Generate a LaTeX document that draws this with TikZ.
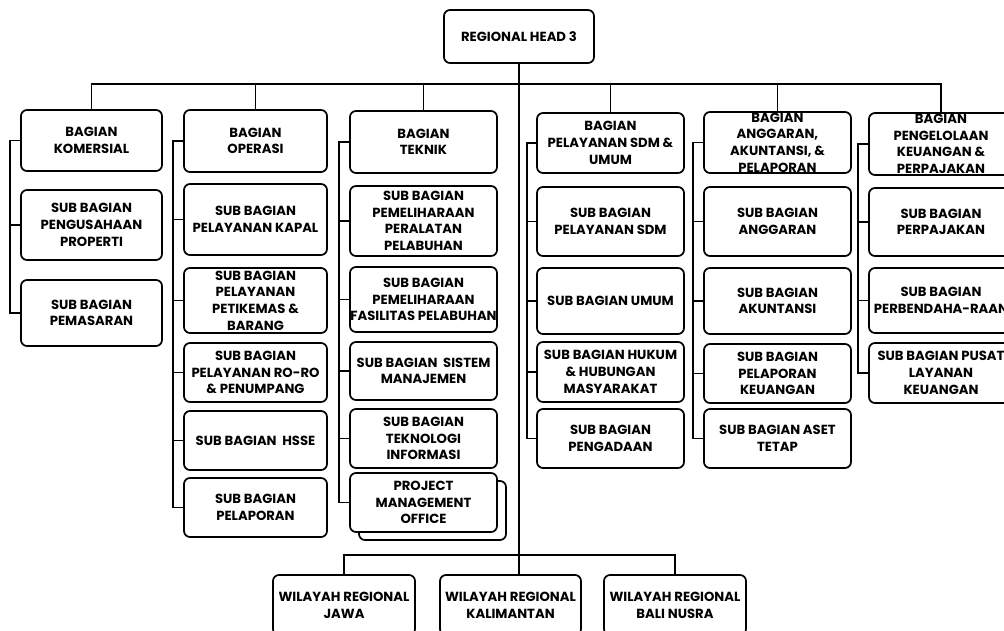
\documentclass[tikz,border=0pt]{standalone}
\usepackage{fontspec}
\setmainfont{Poppins}
\usepackage{tikz}
\usetikzlibrary{positioning}
\newcommand{\orgtext}[1]{\smash{\raisebox{-4.3pt}{\begin{tabular}{@{}c@{}}#1\end{tabular}}}}
\tikzset{
  unit/.style={draw, fill=white, rounded corners=6pt, line width=1.7pt, inner sep=0pt,
    font=\fontsize{13.2}{16.7}\selectfont\bfseries},
  link/.style={line width=1.7pt},
  colkom/.style={unit, minimum width=141pt},
  colops/.style={unit, minimum width=143pt},
  coltek/.style={unit, minimum width=147pt},
  colsdm/.style={unit, minimum width=147pt},
  colagr/.style={unit, minimum width=147pt},
  colkev/.style={unit, minimum width=144pt},
  wilayah/.style={unit, minimum width=142pt, minimum height=60pt}
}

\begin{document}
\begin{tikzpicture}[x=1pt, y=-1pt]
    \clip (0,0) rectangle (1004,630);
    \coordinate (topbus) at (519,84);
    \coordinate (lowbus) at (519,555);

    \node[unit, minimum width=150pt, minimum height=53pt] (head) at (519,36.5) {\orgtext{REGIONAL HEAD 3}};

    % bagian komersial
    \node[colkom, minimum height=61pt] (kom) at (91.5,140.5) {\orgtext{BAGIAN\\KOMERSIAL}};
    \node[colkom, minimum height=70pt] (kom1) at (91.5,225) {\orgtext{SUB BAGIAN\\PENGUSAHAAN\\PROPERTI}};
    \node[colkom, minimum height=66pt] (kom2) at (91.5,313) {\orgtext{SUB BAGIAN\\PEMASARAN}};

    % bagian operasi
    \node[colops, minimum height=62pt] (ops) at (255.5,141) {\orgtext{BAGIAN\\OPERASI}};
    \node[colops, minimum height=71pt] (ops1) at (255.5,219.5) {\orgtext{SUB BAGIAN\\PELAYANAN KAPAL}};
    \node[colops, minimum height=65pt] (ops2) at (255.5,300.5) {\orgtext{SUB BAGIAN\\PELAYANAN\\PETIKEMAS \&\\BARANG}};
    \node[colops, minimum height=59pt] (ops3) at (255.5,372.5) {\orgtext{SUB BAGIAN\\PELAYANAN RO-RO\\\& PENUMPANG}};
    \node[colops, minimum height=59pt] (ops4) at (255.5,440.5) {\orgtext{SUB BAGIAN\ \ HSSE}};
    \node[colops, minimum height=59pt] (ops5) at (255.5,507.5) {\orgtext{SUB BAGIAN\\PELAPORAN}};

    % bagian teknik
    \node[coltek, minimum height=62pt] (tek) at (423.5,142) {\orgtext{BAGIAN\\TEKNIK}};
    \node[coltek, minimum height=70pt] (tek1) at (423.5,221) {\orgtext{SUB BAGIAN\\PEMELIHARAAN\\PERALATAN\\PELABUHAN}};
    \node[coltek, minimum height=65pt] (tek2) at (423.5,299.5) {\orgtext{SUB BAGIAN\\PEMELIHARAAN\\FASILITAS PELABUHAN}};
    \node[coltek, minimum height=58pt] (tek3) at (423.5,371) {\orgtext{SUB BAGIAN\ \ SISTEM\\MANAJEMEN}};
    \node[coltek, minimum height=59pt] (tek4) at (423.5,438.5) {\orgtext{SUB BAGIAN\\TEKNOLOGI\\INFORMASI}};
    \node[coltek, minimum height=59pt] (tek5b) at (432.5,510.5) {};
    \node[coltek, minimum height=59pt] (tek5) at (423.5,502.5) {\orgtext{PROJECT\\MANAGEMENT\\OFFICE}};

    % bagian pelayanan sdm & umum
    \node[colsdm, minimum height=60pt] (sdm) at (610.5,143) {\orgtext{BAGIAN\\PELAYANAN SDM \&\\UMUM}};
    \node[colsdm, minimum height=69pt] (sdm1) at (610.5,221.5) {\orgtext{SUB BAGIAN\\PELAYANAN SDM}};
    \node[colsdm, minimum height=66pt] (sdm2) at (610.5,301) {\orgtext{SUB BAGIAN UMUM}};
    \node[colsdm, minimum height=60pt] (sdm3) at (610.5,372) {\orgtext{SUB BAGIAN HUKUM\\\& HUBUNGAN\\MASYARAKAT}};
    \node[colsdm, minimum height=59pt] (sdm4) at (610.5,438.5) {\orgtext{SUB BAGIAN\\PENGADAAN}};

    % bagian anggaran
    \node[colagr, minimum height=61pt] (agr) at (777.5,142.5) {\orgtext{BAGIAN\\ANGGARAN,\\AKUNTANSI, \&\\PELAPORAN}};
    \node[colagr, minimum height=69pt] (agr1) at (777.5,221.5) {\orgtext{SUB BAGIAN\\ANGGARAN}};
    \node[colagr, minimum height=66pt] (agr2) at (777.5,301) {\orgtext{SUB BAGIAN\\AKUNTANSI}};
    \node[colagr, minimum height=59pt] (agr3) at (777.5,373.5) {\orgtext{SUB BAGIAN\\PELAPORAN\\KEUANGAN}};
    \node[colagr, minimum height=59pt] (agr4) at (777.5,438.5) {\orgtext{SUB BAGIAN ASET\\TETAP}};

    % bagian pengelolaan keuangan
    \node[colkev, minimum height=62pt] (kev) at (941,144) {\orgtext{BAGIAN\\PENGELOLAAN\\KEUANGAN \&\\PERPAJAKAN}};
    \node[colkev, minimum height=68pt] (kev1) at (941,222) {\orgtext{SUB BAGIAN\\PERPAJAKAN}};
    \node[colkev, minimum height=65pt] (kev2) at (941,300.5) {\orgtext{SUB BAGIAN\\PERBENDAHA-RAAN}};
    \node[colkev, minimum height=60pt] (kev3) at (941,373) {\orgtext{SUB BAGIAN PUSAT\\LAYANAN\\KEUANGAN}};

    % wilayah
    \node[wilayah] (wil1) at (344,605) {\orgtext{WILAYAH REGIONAL\\JAWA}};
    \node[wilayah, minimum width=141pt] (wil2) at (510.5,605) {\orgtext{WILAYAH REGIONAL\\KALIMANTAN}};
    \node[wilayah] (wil3) at (675,605) {\orgtext{WILAYAH REGIONAL\\BALI NUSRA}};

    % lines
    \draw[link] (head.south) -- (head.south |- wil2.north);
    \draw[link] (kom.north) |- (topbus) -| (kev.north);
    \foreach \u in {ops,tek,sdm,agr}
        \draw[link] (\u.north) -- (\u.north |- topbus);
    \draw[link] (wil1.north) |- (lowbus) -| (wil3.north);

    \draw[link] (kom.west) -- ++(-10,0) |- (kom2.west);
    \draw[link] (ops.west) -- ++(-10,0) |- (ops5.west);
    \draw[link] (tek.west) -- ++(-10,0) |- (tek5.west);
    \draw[link] (sdm.west) -- ++(-9,0) |- (sdm4.west);
    \draw[link] (agr.west) -- ++(-10,0) |- (agr4.west);
    \draw[link] (kev.west) -- ++(-10,0) |- (kev3.west);
    \foreach \u in {kom1,ops1,ops2,ops3,ops4,tek1,tek2,tek3,tek4,sdm1,sdm2,sdm3,agr1,agr2,agr3,kev1,kev2}
        \draw[link] (\u.west) -- ++(-10,0);
  \end{tikzpicture}
\end{document}
